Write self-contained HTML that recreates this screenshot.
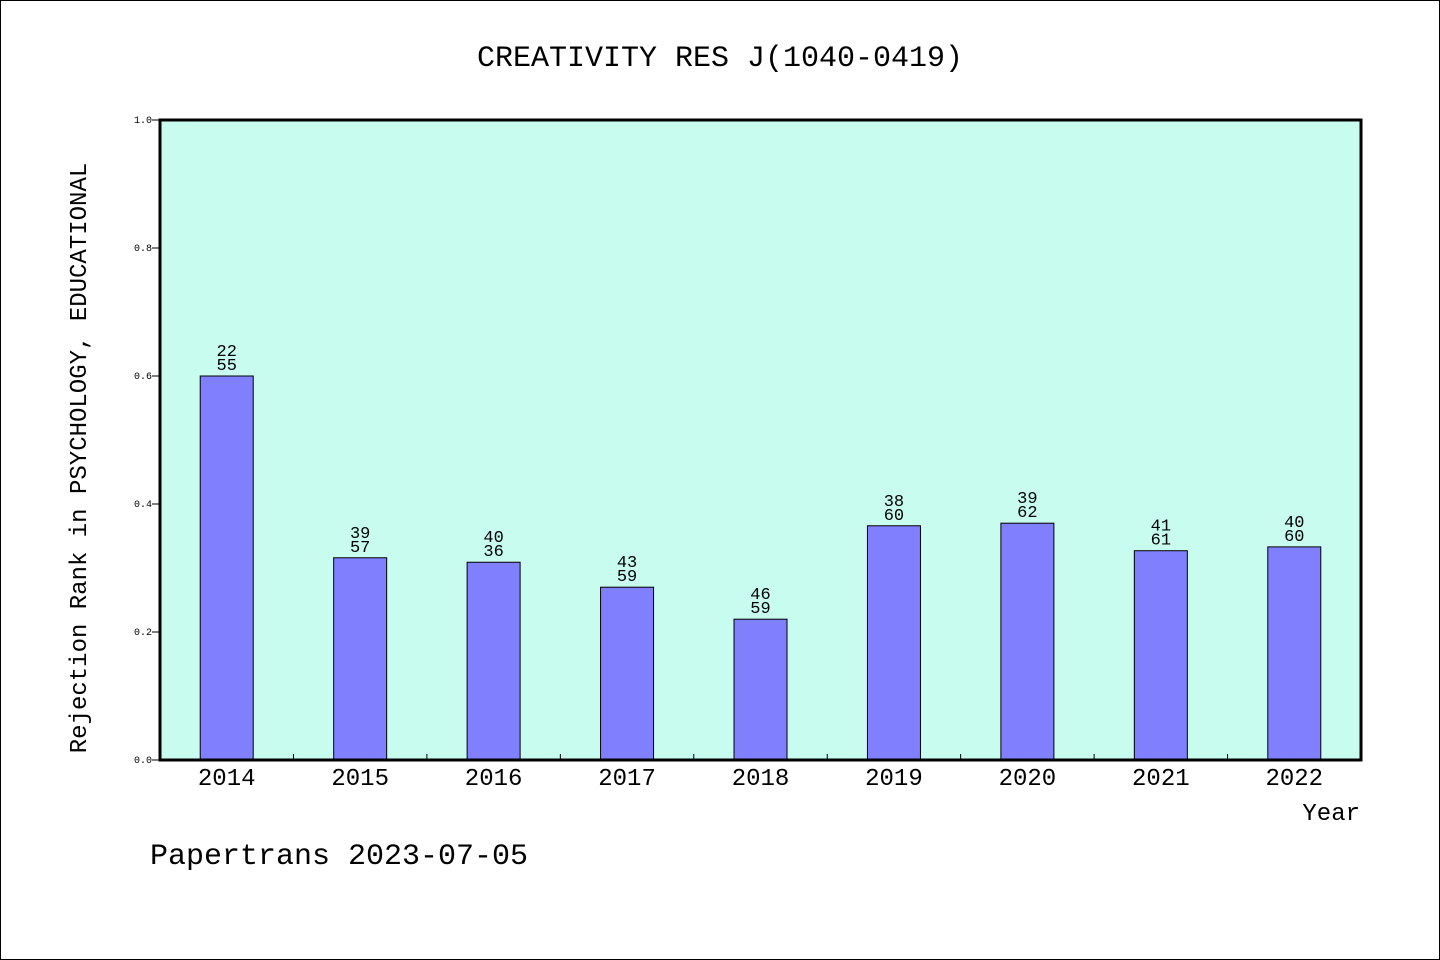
<!DOCTYPE html>
<html><head><meta charset="utf-8"><style>
html,body{margin:0;padding:0;background:#fff}
svg{display:block}
text{font-family:"Liberation Mono","WenQuanYi Zen Hei",monospace;fill:#000}
</style></head><body>
<svg id="chart" width="1440" height="960" viewBox="0 0 1440 960">
<rect x="0.5" y="0.5" width="1439" height="959" fill="#fff" stroke="#000"/>
<text x="720" y="66" text-anchor="middle" font-size="30">CREATIVITY RES J(1040-0419)</text>
<rect x="160" y="120" width="1201" height="640" fill="#c8fcef"/>
<g id="yticks"></g>
<g id="bars"></g>
<g id="xticks"></g>
<rect x="160" y="120" width="1201" height="640" fill="none" stroke="#000" stroke-width="3"/>
<text x="86" y="458" text-anchor="middle" font-size="24" transform="rotate(-90 86 458)">Rejection Rank in PSYCHOLOGY, EDUCATIONAL</text>
<text x="1360" y="820" text-anchor="end" font-size="24">Year</text>
<text x="150" y="864" font-size="30">Papertrans 2023-07-05</text>
</svg>
<script>
const years=["2014","2015","2016","2017","2018","2019","2020","2021","2022"];
const values=[0.6,0.316,0.309,0.270,0.220,0.366,0.370,0.327,0.333];
const topLabels=["22","39","40","43","46","38","39","41","40"];
const bottomLabels=["55","57","36","59","59","60","62","61","60"];
const yTicks=[0,0.2,0.4,0.6,0.8,1.0];
const NS="http://www.w3.org/2000/svg";
const x0=160,x1=1361,y0=760,y1=120;
const band=(x1-x0)/years.length;
const xC=i=>x0+band*(i+0.5);
const yS=v=>y0-(y0-y1)*v;
function mk(tag,attrs,parent){const e=document.createElementNS(NS,tag);for(const k in attrs)e.setAttribute(k,attrs[k]);parent.appendChild(e);return e;}
const gy=document.getElementById('yticks'),gb=document.getElementById('bars'),gx=document.getElementById('xticks');
yTicks.forEach(t=>{
  const l=mk('line',{x1:x0-8,x2:x0,y1:yS(t),y2:yS(t),stroke:'#000'},gy);
  
  
  const tx=mk('text',{x:x0-8,y:yS(t)+3,'text-anchor':'end','font-size':'10'},gy);
  tx.textContent=t.toFixed(1);
  
  
});
years.forEach((yr,i)=>{
  const w=53,cx=xC(i);
  const r=mk('rect',{x:cx-w/2,y:yS(values[i]),width:w,height:y0-yS(values[i]),fill:'#8080ff',stroke:'#000','stroke-width':1},gb);
  
  
  const t1=mk('text',{x:cx,y:yS(values[i])-20,'text-anchor':'middle','font-size':'17'},gb);
  t1.textContent=topLabels[i];
  
  
  const t2=mk('text',{x:cx,y:yS(values[i])-6,'text-anchor':'middle','font-size':'17'},gb);
  t2.textContent=bottomLabels[i];
  
  
  const xl=mk('text',{x:cx,y:785,'text-anchor':'middle','font-size':'24'},gx);
  xl.textContent=yr;
  
  
  if(i>0){
    const tk=mk('line',{x1:x0+band*i,x2:x0+band*i,y1:y0,y2:y0-6,stroke:'#000'},gx);
    
    
  }
});
</script>
</body></html>
